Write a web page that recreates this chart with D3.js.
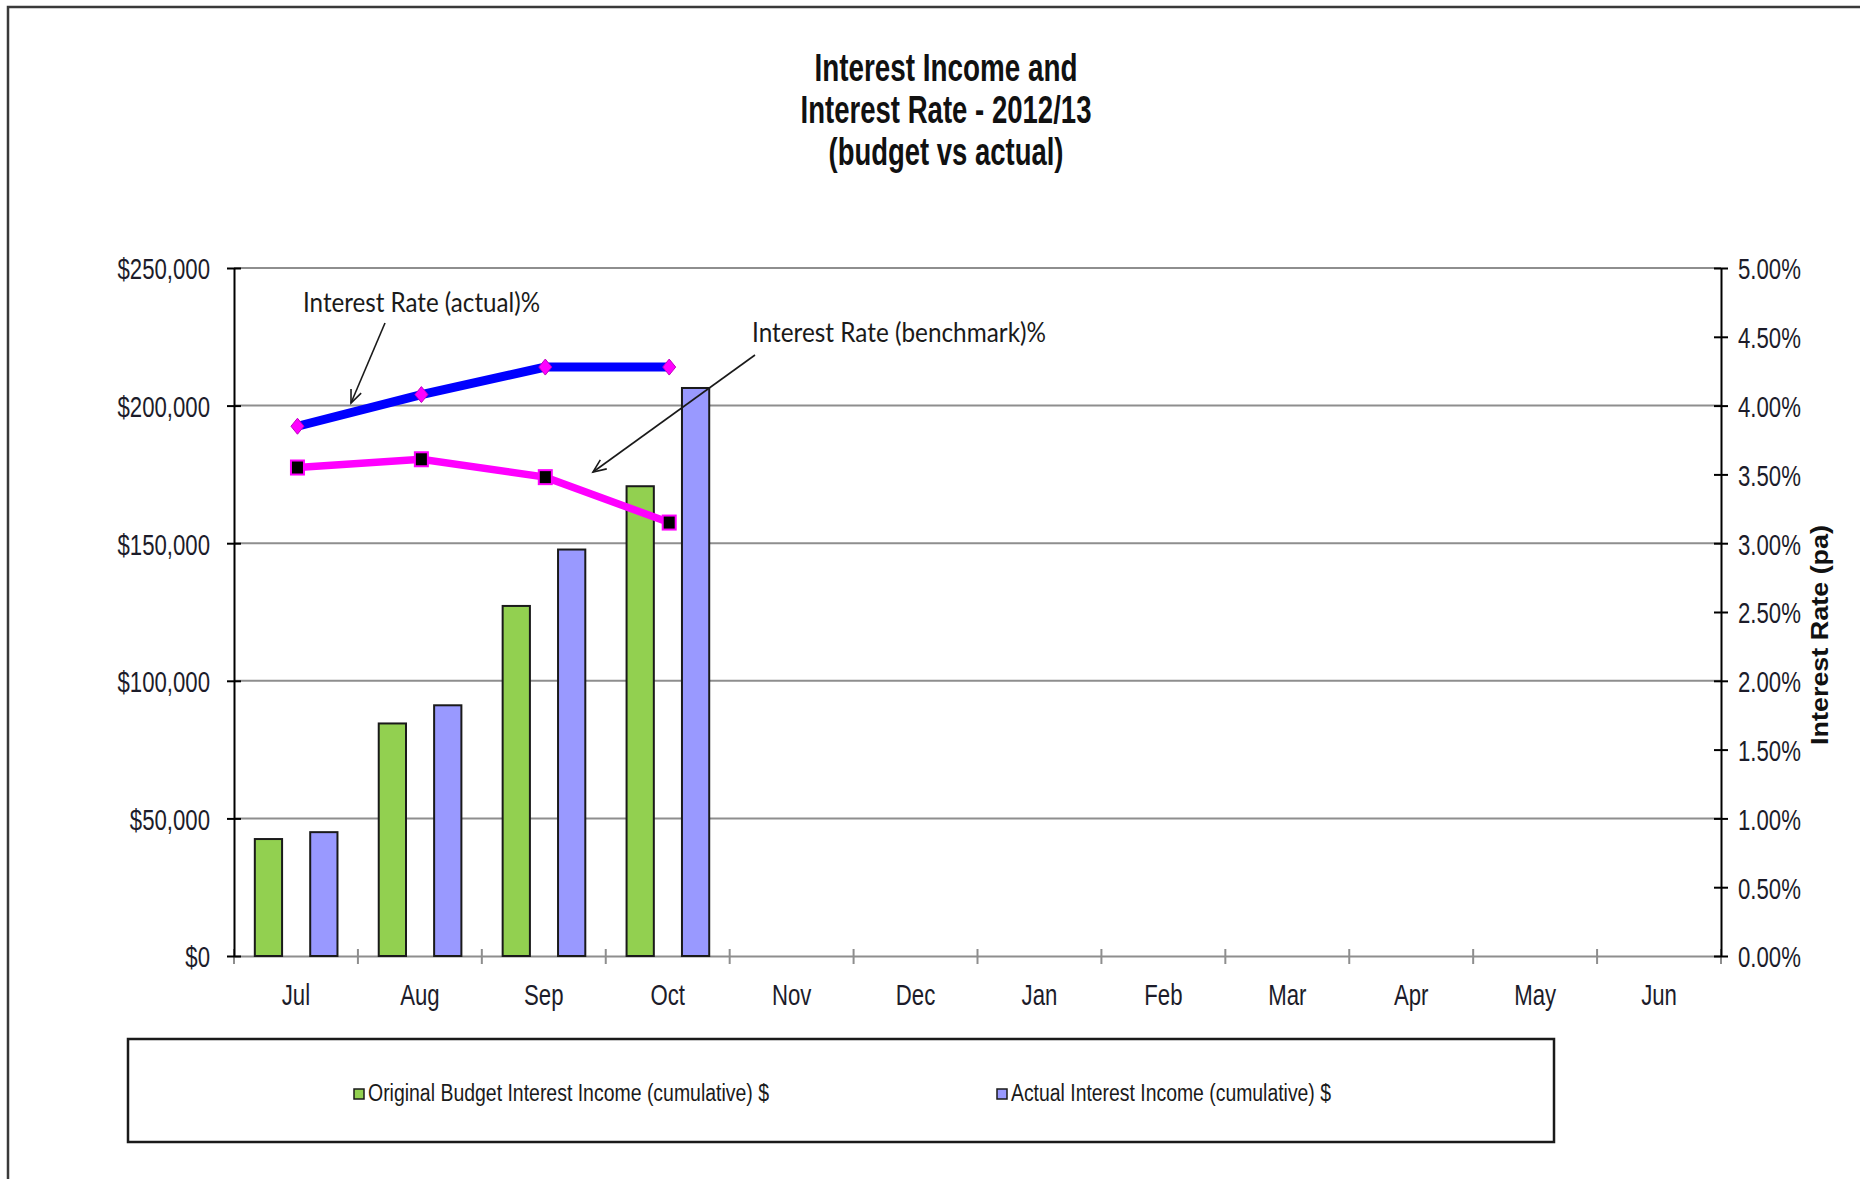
<!DOCTYPE html>
<html>
<head>
<meta charset="utf-8">
<script src="https://cdn.jsdelivr.net/npm/d3@7"></script>
<style>
  body { margin: 0; background: #fff; }
  svg { display: block; }
</style>
</head>
<body>
<script>
let w = 1860;
let h = 1179;

let months = ["Jul", "Aug", "Sep", "Oct", "Nov", "Dec", "Jan", "Feb", "Mar", "Apr", "May", "Jun"];
let budgetIncome = [42500, 84500, 127200, 170700];
let actualIncome = [45000, 91100, 147700, 206400];
let rateActual = [3.85, 4.08, 4.28, 4.28];
let rateBenchmark = [3.55, 3.61, 3.48, 3.15];
let incomeTicks = [0, 50000, 100000, 150000, 200000, 250000];
let rateTicks = [0, 0.5, 1, 1.5, 2, 2.5, 3, 3.5, 4, 4.5, 5];
let titleLines = ["Interest Income and", "Interest Rate - 2012/13", "(budget vs actual)"];
let legendLabels = ["Original Budget Interest Income (cumulative) $", "Actual Interest Income (cumulative) $"];

let plotLeft = 234, plotRight = 1721, plotTop = 268, plotBottom = 956;
let squeeze = 0.74;
let labelFont = "'Liberation Sans', Arial, sans-serif";

let svg = d3.select("body")
            .append("svg")
            .attr("width", w)
            .attr("height", h);

// outer frame (runs off the right and bottom of the picture)
svg.append("rect")
   .attr("x", 8).attr("y", 7)
   .attr("width", w + 20).attr("height", h + 20)
   .attr("fill", "none")
   .attr("stroke", "#3a3a3a")
   .attr("stroke-width", 2.5);

// title
svg.selectAll("text.title")
   .data(titleLines)
   .enter()
   .append("text")
   .attr("class", "title")
   .attr("x", 946)
   .attr("y", function(d, i) { return 81 + i * 42; })
   .attr("text-anchor", "middle")
   .attr("font-family", labelFont)
   .attr("font-weight", "bold")
   .attr("font-size", "38px")
   .attr("fill", "#111")
   .attr("textLength", function(d, i) { return [263, 291, 235][i]; })
   .attr("lengthAdjust", "spacingAndGlyphs")
   .text(function(d) { return d; });

let xScale = d3.scaleBand()
               .domain(months)
               .range([plotLeft, plotRight]);
let bw = xScale.bandwidth();
let yIncome = d3.scaleLinear()
                .domain([0, 250000])
                .range([plotBottom, plotTop]);
let yRate = d3.scaleLinear()
              .domain([0, 5])
              .range([plotBottom, plotTop]);

// gridlines
svg.selectAll("line.grid")
   .data(incomeTicks.slice(1))
   .enter()
   .append("line")
   .attr("class", "grid")
   .attr("x1", plotLeft).attr("x2", plotRight)
   .attr("y1", function(d) { return yIncome(d); })
   .attr("y2", function(d) { return yIncome(d); })
   .attr("stroke", "#8e8e8e")
   .attr("stroke-width", 2);

// bottom axis
let xAxis = svg.append("g")
   .attr("transform", "translate(0," + plotBottom + ")")
   .call(d3.axisBottom(xScale).tickSize(0));
xAxis.select(".domain").attr("stroke", "#8e8e8e").attr("stroke-width", 2);
xAxis.selectAll("text")
     .attr("y", 49).attr("dy", 0)
     .attr("font-family", labelFont)
     .attr("font-size", "30px")
     .attr("fill", "#1c1c2a")
     .attr("transform", "scale(" + squeeze + ",1)");
svg.selectAll("line.xtick")
   .data(d3.range(months.length + 1))
   .enter()
   .append("line")
   .attr("class", "xtick")
   .attr("x1", function(i) { return xScale.range()[0] + i * xScale.step(); })
   .attr("x2", function(i) { return xScale.range()[0] + i * xScale.step(); })
   .attr("y1", plotBottom - 7).attr("y2", plotBottom + 8)
   .attr("stroke", "#8e8e8e")
   .attr("stroke-width", 2);

// left axis
let yAxisL = svg.append("g")
   .attr("transform", "translate(" + plotLeft + ",0)")
   .call(d3.axisLeft(yIncome)
           .tickValues(incomeTicks)
           .tickSizeOuter(0)
           .tickFormat(function(d) { return "$" + d3.format(",")(d); }));
yAxisL.select(".domain").attr("stroke", "#000").attr("stroke-width", 2);
yAxisL.selectAll(".tick line").attr("x1", -7).attr("x2", 7).attr("stroke", "#000").attr("stroke-width", 2);
yAxisL.selectAll("text")
      .attr("x", -24 / squeeze).attr("dy", "0.36em")
      .attr("font-family", labelFont)
      .attr("font-size", "30px")
      .attr("fill", "#1c1c2a")
      .attr("transform", "scale(" + squeeze + ",1)");

// right axis
let yAxisR = svg.append("g")
   .attr("transform", "translate(" + plotRight + ",0)")
   .call(d3.axisRight(yRate)
           .tickValues(rateTicks)
           .tickSizeOuter(0)
           .tickFormat(function(d) { return d3.format(".2f")(d) + "%"; }));
yAxisR.select(".domain").attr("stroke", "#000").attr("stroke-width", 2);
yAxisR.selectAll(".tick line").attr("x1", -7).attr("x2", 7).attr("stroke", "#000").attr("stroke-width", 2);
yAxisR.selectAll("text")
      .attr("x", 17 / squeeze).attr("dy", "0.36em")
      .attr("font-family", labelFont)
      .attr("font-size", "30px")
      .attr("fill", "#1c1c2a")
      .attr("transform", "scale(" + squeeze + ",1)");

svg.append("text")
   .attr("transform", "translate(1828,635) rotate(-90)")
   .attr("text-anchor", "middle")
   .attr("font-family", labelFont)
   .attr("font-weight", "bold")
   .attr("font-size", "23px")
   .attr("fill", "#111")
   .attr("textLength", 220)
   .attr("lengthAdjust", "spacingAndGlyphs")
   .text("Interest Rate (pa)");

// bars
let barW = bw * 0.22;
function drawBars(data, offset, color) {
    svg.append("g")
       .selectAll("rect")
       .data(data)
       .enter()
       .append("rect")
       .attr("x", function(d, i) { return xScale(months[i]) + bw / 2 + offset - barW / 2; })
       .attr("y", function(d) { return yIncome(d); })
       .attr("width", barW)
       .attr("height", function(d) { return plotBottom - yIncome(d); })
       .attr("fill", color)
       .attr("stroke", "#1a1a1a")
       .attr("stroke-width", 2);
}
drawBars(budgetIncome, -bw * 0.222, "#92d050");
drawBars(actualIncome, bw * 0.225, "#9999ff");

// rate lines
let px = function(d, i) { return xScale(months[i]) + bw / 2 + 1.5; };
let rateLine = d3.line()
                 .x(px)
                 .y(function(d) { return yRate(d); });

svg.append("path")
   .datum(rateBenchmark)
   .attr("d", rateLine)
   .attr("fill", "none")
   .attr("stroke", "#ff00ff")
   .attr("stroke-width", 7.5);
svg.append("g")
   .selectAll("rect")
   .data(rateBenchmark)
   .enter()
   .append("rect")
   .attr("x", function(d, i) { return px(d, i) - 6.5; })
   .attr("y", function(d) { return yRate(d) - 7; })
   .attr("width", 13)
   .attr("height", 14)
   .attr("fill", "#000")
   .attr("stroke", "#ff00ff")
   .attr("stroke-width", 2);

svg.append("path")
   .datum(rateActual)
   .attr("d", rateLine)
   .attr("fill", "none")
   .attr("stroke", "#0000ff")
   .attr("stroke-width", 9);
svg.append("g")
   .selectAll("path")
   .data(rateActual)
   .enter()
   .append("path")
   .attr("d", "M0,-8L6.5,0L0,8L-6.5,0Z")
   .attr("transform", function(d, i) { return "translate(" + px(d, i) + "," + yRate(d) + ")"; })
   .attr("fill", "#ff00ff")
   .attr("stroke", "#c000c0")
   .attr("stroke-width", 1);

// annotations
svg.append("defs")
   .append("marker")
   .attr("id", "head")
   .attr("markerUnits", "userSpaceOnUse")
   .attr("markerWidth", 30).attr("markerHeight", 30)
   .attr("refX", 0).attr("refY", 0)
   .attr("viewBox", "-15 -15 30 30")
   .attr("orient", "auto")
   .append("path")
   .attr("d", "M-13,-5.5L0,0L-13,5.5")
   .attr("fill", "none")
   .attr("stroke", "#1a1a1a")
   .attr("stroke-width", 1.6);

let notes = [
    {text: "Interest Rate (actual)%", x: 303, y: 312, len: 237, from: [385, 323], to: [351, 403]},
    {text: "Interest Rate (benchmark)%", x: 752, y: 342, len: 294, from: [755, 355], to: [593, 472]}
];
notes.forEach(function(n) {
    svg.append("text")
       .attr("x", n.x).attr("y", n.y)
       .attr("font-family", "Lato, 'Open Sans', sans-serif")
       .attr("font-size", "26px")
       .attr("fill", "#1a1a1a")
       .attr("textLength", n.len)
       .attr("lengthAdjust", "spacingAndGlyphs")
       .text(n.text);
    svg.append("line")
       .attr("x1", n.from[0]).attr("y1", n.from[1])
       .attr("x2", n.to[0]).attr("y2", n.to[1])
       .attr("stroke", "#1a1a1a")
       .attr("stroke-width", 1.6)
       .attr("marker-end", "url(#head)");
});

// legend
svg.append("rect")
   .attr("x", 128).attr("y", 1039)
   .attr("width", 1426).attr("height", 103)
   .attr("fill", "#fff")
   .attr("stroke", "#1a1a1a")
   .attr("stroke-width", 2.5);

let legendItems = [
    {label: legendLabels[0], color: "#92d050", x: 354, len: 401},
    {label: legendLabels[1], color: "#9999ff", x: 997, len: 320}
];
legendItems.forEach(function(it) {
    svg.append("rect")
       .attr("x", it.x).attr("y", 1089)
       .attr("width", 10).attr("height", 10)
       .attr("fill", it.color)
       .attr("stroke", "#1a1a1a")
       .attr("stroke-width", 1.5);
    svg.append("text")
       .attr("x", it.x + 14).attr("y", 1101)
       .attr("font-family", labelFont)
       .attr("font-size", "23px")
       .attr("fill", "#1a1a1a")
       .attr("textLength", it.len)
       .attr("lengthAdjust", "spacingAndGlyphs")
       .text(it.label);
});
</script>
</body>
</html>
